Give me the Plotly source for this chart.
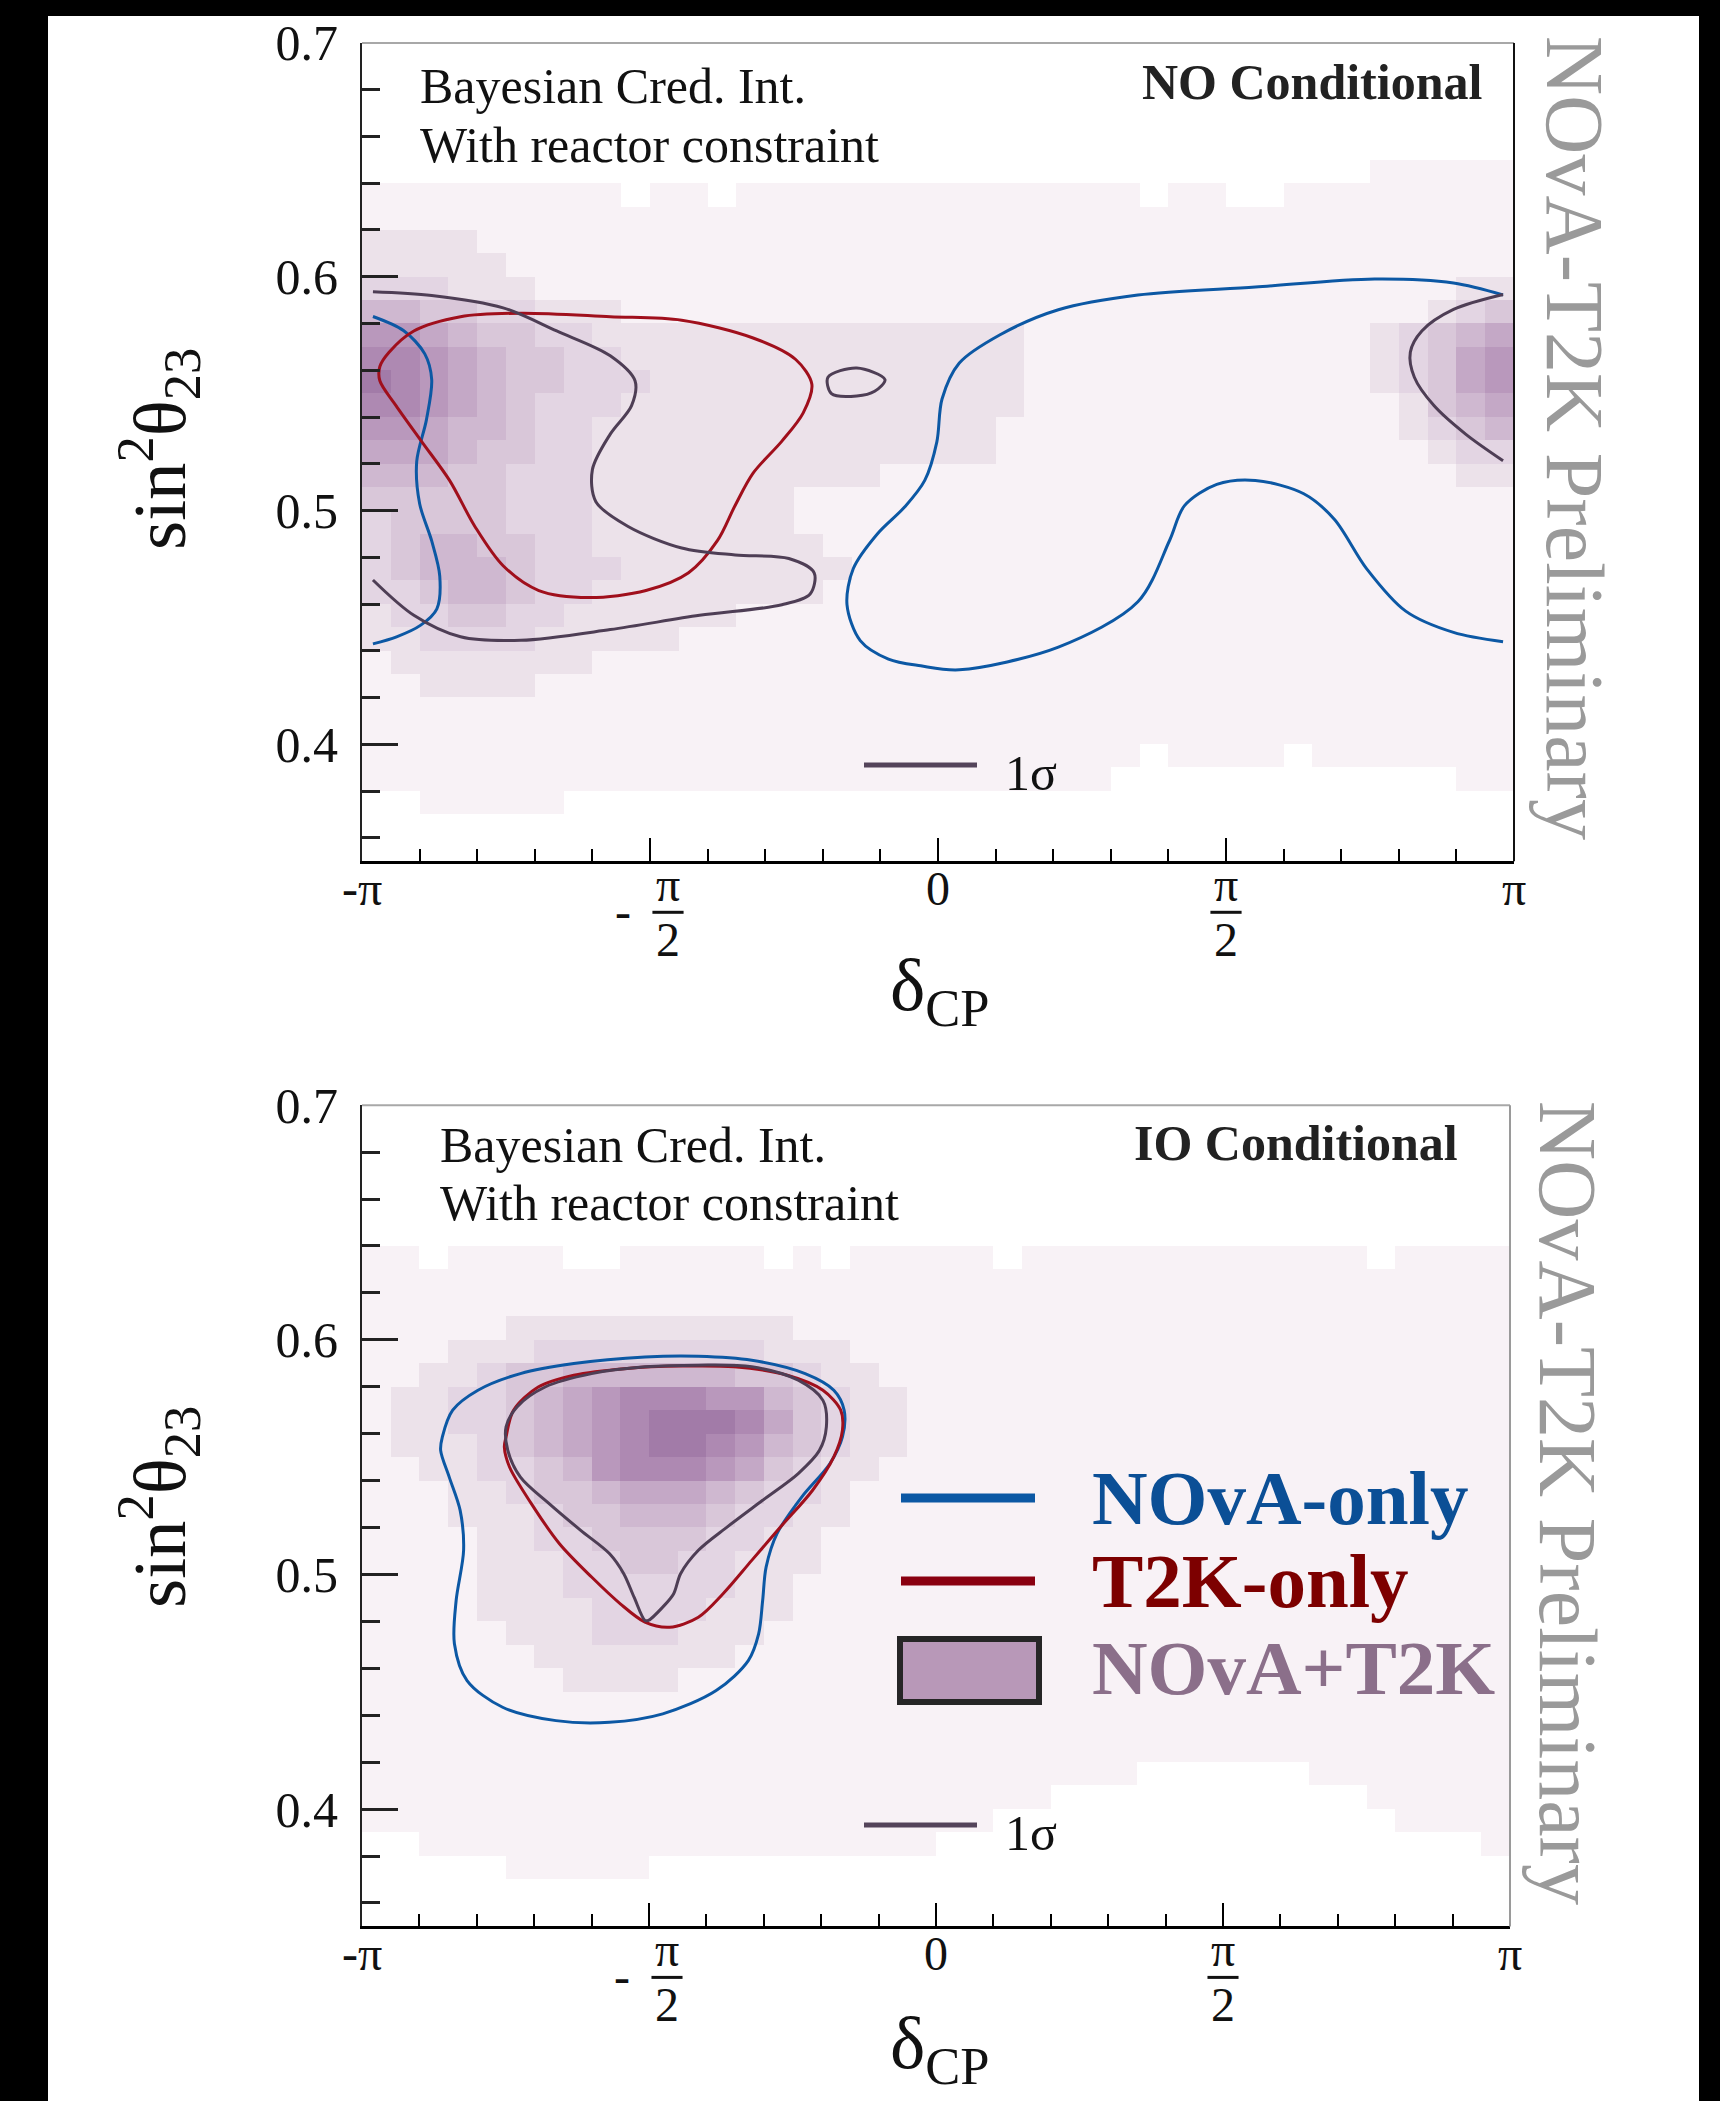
import numpy as np
import plotly.graph_objects as go

W, H = 1720, 2101
FONT = "Liberation Serif"

# ---------------- binned posterior (levels 0..9, rows listed top -> bottom) ----------------
DCP_BIN_CENTERS_OVER_PI = np.linspace(-0.975, 0.975, 40)
S23_BIN_CENTERS = np.linspace(0.355, 0.695, 35)

NO_DENSITY_ROWS = [
    "0" * 40, "0" * 40, "0" * 40, "0" * 40, "0" * 40,
    "0" * 35 + "11111",
    "1111111110110111111111111110110011111111",
    "1" * 40,
    "2222" + "1" * 36,
    "22222" + "1" * 35,
    "333222" + "1" * 32 + "22",
    "554433222" + "1" * 28 + "234",
    "77654433222" + "2" * 12 + "1" * 12 + "23456",
    "887654433" + "2" * 14 + "1" * 12 + "23467",
    "9876544333" + "2" * 13 + "1" * 12 + "23467",
    "887654333" + "2" * 14 + "1" * 13 + "2456",
    "776554332" + "2" * 13 + "1" * 14 + "2345",
    "666544332" + "2" * 13 + "1" * 15 + "233",
    "555443332" + "2" * 9 + "1" * 20 + "22",
    "444443332" + "2" * 6 + "1" * 25,
    "344443332" + "2" * 6 + "1" * 25,
    "345544332" + "2" * 7 + "1" * 24,
    "345554333" + "2" * 8 + "1" * 23,
    "334554332" + "2" * 7 + "1" * 24,
    "23344332" + "2" * 5 + "1" * 27,
    "2233332" + "2" * 4 + "1" * 29,
    "1" + "2" * 7 + "1" * 32,
    "11" + "2222" + "1" * 34,
    "1" * 40,
    "1" * 40,
    "1" * 27 + "0" + "1111" + "0" + "1" * 7,
    "1" * 26 + "0" * 12 + "11",
    "00" + "11111" + "0" * 33,
    "0" * 40, "0" * 40,
]

IO_DENSITY_ROWS = [
    "0" * 40, "0" * 40, "0" * 40, "0" * 40, "0" * 40,
    "0" * 40,
    "11" + "0" + "1111" + "00" + "11111" + "0" + "1" + "0" + "11111" + "0" + "1" * 12 + "0" + "1111",
    "1" * 40,
    "1" * 40,
    "11111" + "2" * 10 + "1" * 25,
    "111" + "222" + "33333333" + "222" + "1" * 23,
    "11" + "2234455555544322" + "1" * 22,
    "1" + "223345678887754322" + "1" * 21,
    "1" + "223345678999864322" + "1" * 21,
    "1" + "222345678998754322" + "1" * 21,
    "11" + "2233457888764322" + "1" * 22,
    "111" + "22344566654332" + "1" * 23,
    "111" + "22234455543322" + "1" * 23,
    "1111" + "223344443322" + "1" * 24,
    "1111" + "222334433222" + "1" * 24,
    "1111" + "22233333322" + "1" * 25,
    "1111" + "22223333222" + "1" * 25,
    "11111" + "222333222" + "1" * 26,
    "111111" + "2222222" + "1" * 27,
    "1111111" + "2222" + "1" * 29,
    "1" * 40,
    "1" * 40,
    "1" * 40,
    "1" * 27 + "0" * 6 + "1" * 7,
    "1" * 24 + "0" * 11 + "1" * 5,
    "1" * 22 + "0" * 14 + "1" * 4,
    "00" + "1" * 18 + "0" * 19 + "1",
    "00000" + "11111" + "0" * 30,
    "0" * 40, "0" * 40,
]

# ---------------- 1 sigma contours (delta_CP in units of pi, sin^2 theta23) ----------------
# NO panel
NO_NOVA_A_X = [-0.981, -0.928, -0.891, -0.879, -0.888, -0.905, -0.900, -0.879, -0.865, -0.870, -0.898, -0.940, -0.981]
NO_NOVA_A_Y = [0.583, 0.577, 0.567, 0.556, 0.539, 0.521, 0.503, 0.487, 0.472, 0.458, 0.451, 0.446, 0.443]

NO_NOVA_B_X = [0.981, 0.895, 0.812, 0.744, 0.688, 0.635, 0.551, 0.484, 0.428, 0.402, 0.347, 0.209, 0.037,
               -0.030, -0.086, -0.135, -0.158, -0.147, -0.105, -0.058, -0.023, -0.002, 0.007, 0.037, 0.107,
               0.209, 0.347, 0.551, 0.758, 0.895, 0.981]
NO_NOVA_B_Y = [0.4439, 0.4479, 0.4570, 0.4752, 0.4963, 0.5072, 0.5129, 0.5112, 0.5021, 0.4872, 0.4610, 0.4416,
               0.4319, 0.4336, 0.4365, 0.4444, 0.4598, 0.4752, 0.4901, 0.5015, 0.5129, 0.5294, 0.5477, 0.5631,
               0.5751, 0.5859, 0.5922, 0.5956, 0.5990, 0.5973, 0.5922]

NO_T2K_X = [-0.969, -0.953, -0.910, -0.829, -0.724, -0.569, -0.445, -0.321, -0.247, -0.219, -0.234, -0.271,
            -0.321, -0.352, -0.383, -0.433, -0.507, -0.606, -0.693, -0.755, -0.804, -0.848, -0.897, -0.941,
            -0.969, -0.969]
NO_T2K_Y = [0.5616, 0.5677, 0.5768, 0.5829, 0.5844, 0.5829, 0.5814, 0.5738, 0.5646, 0.5540, 0.5418, 0.5297,
            0.5160, 0.5023, 0.4871, 0.4734, 0.4658, 0.4628, 0.4658, 0.4764, 0.4932, 0.5129, 0.5297, 0.5449,
            0.5555, 0.5616]

NO_COMB_A_X = [-0.981, -0.879, -0.755, -0.662, -0.569, -0.526, -0.532, -0.569, -0.600, -0.594, -0.538, -0.445,
               -0.352, -0.259, -0.215, -0.222, -0.271, -0.414, -0.569, -0.724, -0.829, -0.910, -0.981]
NO_COMB_A_Y = [0.5936, 0.5920, 0.5867, 0.5768, 0.5662, 0.5555, 0.5449, 0.5327, 0.5175, 0.5038, 0.4932, 0.4840,
               0.4810, 0.4795, 0.4734, 0.4643, 0.4597, 0.4552, 0.4491, 0.4445, 0.4460, 0.4552, 0.4703]
NO_COMB_B_X = [-0.191, -0.141, -0.092, -0.110, -0.141, -0.185, -0.191]
NO_COMB_B_Y = [0.557, 0.561, 0.556, 0.551, 0.549, 0.550, 0.557]
NO_COMB_C_X = [0.981, 0.895, 0.840, 0.820, 0.827, 0.861, 0.916, 0.981]
NO_COMB_C_Y = [0.5924, 0.5860, 0.5768, 0.5677, 0.5570, 0.5449, 0.5327, 0.5213]

# IO panel
IO_NOVA_X = [-0.860, -0.842, -0.798, -0.724, -0.631, -0.507, -0.414, -0.321, -0.228, -0.178, -0.160, -0.163,
             -0.185, -0.234, -0.277, -0.296, -0.302, -0.309, -0.327, -0.383, -0.476, -0.569, -0.662, -0.755,
             -0.817, -0.839, -0.836, -0.823, -0.829, -0.848, -0.863, -0.860]
IO_NOVA_Y = [0.5586, 0.5700, 0.5785, 0.5856, 0.5899, 0.5927, 0.5930, 0.5913, 0.5856, 0.5785, 0.5700, 0.5586,
             0.5472, 0.5330, 0.5174, 0.5031, 0.4889, 0.4747, 0.4633, 0.4505, 0.4406, 0.4370, 0.4377, 0.4434,
             0.4548, 0.4705, 0.4889, 0.5103, 0.5273, 0.5415, 0.5529, 0.5586]
IO_T2K_X = [-0.749, -0.736, -0.693, -0.631, -0.538, -0.445, -0.352, -0.259, -0.197, -0.166, -0.163, -0.178,
            -0.215, -0.271, -0.321, -0.371, -0.414, -0.464, -0.507, -0.550, -0.600, -0.656, -0.705, -0.743,
            -0.752, -0.749]
IO_T2K_Y = [0.5586, 0.5700, 0.5799, 0.5849, 0.5878, 0.5888, 0.5885, 0.5849, 0.5785, 0.5700, 0.5615, 0.5501,
            0.5359, 0.5202, 0.5060, 0.4918, 0.4818, 0.4775, 0.4797, 0.4875, 0.4989, 0.5131, 0.5302, 0.5458,
            0.5543, 0.5586]
IO_COMB_X = [-0.507, -0.526, -0.544, -0.569, -0.619, -0.674, -0.724, -0.746, -0.749, -0.730, -0.681, -0.600,
             -0.507, -0.414, -0.321, -0.240, -0.197, -0.191, -0.203, -0.240, -0.302, -0.364, -0.414, -0.445,
             -0.457, -0.476, -0.501, -0.507]
IO_COMB_Y = [0.4804, 0.4903, 0.5003, 0.5089, 0.5188, 0.5302, 0.5415, 0.5529, 0.5629, 0.5714, 0.5799, 0.5856,
             0.5885, 0.5892, 0.5885, 0.5828, 0.5742, 0.5629, 0.5529, 0.5430, 0.5316, 0.5202, 0.5103, 0.5003,
             0.4918, 0.4861, 0.4804, 0.4804]

# x tick labels (delta_CP in units of pi)
XTICK_POS_OVER_PI = [-1.0, -0.5, 0.0, 0.5, 1.0]
XTICK_NUM = ["-π", "π", "0", "π", "π"]
XTICK_DEN = ["", "2", "", "2", ""]
XTICK_SIGN = ["", "-", "", "", ""]
YTICK_VALS = [0.4, 0.5, 0.6, 0.7]
YTICK_TEXT = ["0.4", "0.5", "0.6", "0.7"]

# ---------------- styles ----------------
C_NOVA = "#0c58a4"
C_T2K = "#a00f1c"
C_COMB = "#4e3e55"
HEAT_COLORS = ["#ffffff", "#f8f2f6", "#ece2ea", "#e3d5e3", "#d9c7d9", "#cfb8d0",
               "#c4a8c6", "#b998bc", "#ae89b2", "#a27ba8"]
COLORSCALE = [[i / 9, c] for i, c in enumerate(HEAT_COLORS)]


def rows_to_z(rows):
    out = []
    for r in rows[::-1]:
        r = (r + "0" * 40)[:40]
        out.append([int(ch) for ch in r])
    return out


fig = go.Figure()

panels = [
    dict(xa="x", ya="y", rows=NO_DENSITY_ROWS, axis_y=861.3, px_per_rad=1152 / (2 * np.pi),
         lines=[(NO_NOVA_A_X, NO_NOVA_A_Y, C_NOVA), (NO_NOVA_B_X, NO_NOVA_B_Y, C_NOVA),
                (NO_T2K_X, NO_T2K_Y, C_T2K),
                (NO_COMB_A_X, NO_COMB_A_Y, C_COMB), (NO_COMB_B_X, NO_COMB_B_Y, C_COMB),
                (NO_COMB_C_X, NO_COMB_C_Y, C_COMB)]),
    dict(xa="x2", ya="y2", rows=IO_DENSITY_ROWS, axis_y=1926.4, px_per_rad=1148 / (2 * np.pi),
         lines=[(IO_NOVA_X, IO_NOVA_Y, C_NOVA), (IO_T2K_X, IO_T2K_Y, C_T2K),
                (IO_COMB_X, IO_COMB_Y, C_COMB)]),
]

for p in panels:
    fig.add_trace(go.Heatmap(
        x=DCP_BIN_CENTERS_OVER_PI * np.pi, y=S23_BIN_CENTERS, z=rows_to_z(p["rows"]),
        zmin=0, zmax=9, colorscale=COLORSCALE, showscale=False, zsmooth=False,
        xaxis=p["xa"], yaxis=p["ya"], hoverinfo="skip"))
    for xs, ys, col in p["lines"]:
        fig.add_trace(go.Scatter(
            x=np.array(xs) * np.pi, y=ys, mode="lines",
            line=dict(color=col, width=3, shape="spline", smoothing=0.9),
            xaxis=p["xa"], yaxis=p["ya"], showlegend=False, hoverinfo="skip"))

PI = np.pi


def xaxis_style(domain):
    return dict(domain=domain, range=[-PI, PI], showgrid=False, zeroline=False, automargin=False,
                showline=True, linecolor="black", linewidth=3,
                ticks="inside", ticklen=23, tickwidth=2, tickcolor="black",
                tickvals=[v * PI for v in XTICK_POS_OVER_PI], showticklabels=False,
                minor=dict(ticks="inside", ticklen=12, tickwidth=2, tickcolor="black",
                           tick0=-PI, dtick=PI / 10),
                fixedrange=True)


def yaxis_style(domain, anchor):
    return dict(domain=domain, range=[0.35, 0.7], anchor=anchor, showgrid=False, zeroline=False,
                automargin=False,
                showline=True, linecolor="#222", linewidth=2,
                ticks="inside", ticklen=36, tickwidth=3, tickcolor="#222",
                tickvals=YTICK_VALS, ticktext=YTICK_TEXT,
                tickfont=dict(family=FONT, size=50, color="#111"),
                ticklabelstandoff=12,
                minor=dict(ticks="inside", ticklen=18, tickwidth=3, tickcolor="#222",
                           tick0=0.0, dtick=0.02),
                fixedrange=True)


def px(X):
    return X / W


def py(Y):
    return 1 - Y / H


top_x = [px(362), px(1514)]
top_y = [py(861.3), py(42.9)]
bot_x = [px(362), px(1510)]
bot_y = [py(1926.4), py(1105.2)]

fig.update_layout(
    width=W, height=H, autosize=False,
    margin=dict(l=0, r=0, t=0, b=0, pad=0, autoexpand=False),
    paper_bgcolor="black", plot_bgcolor="white",
    showlegend=False,
    xaxis=dict(xaxis_style(top_x), anchor="y"),
    yaxis=yaxis_style(top_y, "x"),
    xaxis2=dict(xaxis_style(bot_x), anchor="y2"),
    yaxis2=yaxis_style(bot_y, "x2"),
)

shapes = [
    dict(type="rect", xref="paper", yref="paper", x0=px(48), x1=px(1699), y0=0, y1=py(16),
         fillcolor="white", line=dict(width=0), layer="below"),
]
# frame top/right lines
for xa, ya, rcol in [("x", "y", "#111"), ("x2", "y2", "#9a9a9a")]:
    shapes.append(dict(type="line", xref=f"{xa} domain", yref=f"{ya} domain", x0=0, x1=1, y0=1, y1=1,
                       line=dict(color="#a8a8a8", width=2)))
    shapes.append(dict(type="line", xref=f"{xa} domain", yref=f"{ya} domain", x0=1, x1=1, y0=0, y1=1,
                       line=dict(color=rcol, width=2)))
# 1 sigma legend lines
for Y in (765, 1825):
    shapes.append(dict(type="line", xref="paper", yref="paper", x0=px(864), x1=px(977), y0=py(Y), y1=py(Y),
                       line=dict(color="#54445a", width=5)))
# main legend
shapes.append(dict(type="line", xref="paper", yref="paper", x0=px(901), x1=px(1035), y0=py(1498), y1=py(1498),
                   line=dict(color=C_NOVA, width=9)))
shapes.append(dict(type="line", xref="paper", yref="paper", x0=px(901), x1=px(1035), y0=py(1581), y1=py(1581),
                   line=dict(color="#8a0010", width=9)))
shapes.append(dict(type="rect", xref="paper", yref="paper", x0=px(900), x1=px(1039), y0=py(1702), y1=py(1639),
                   fillcolor="#b898b8", line=dict(color="#262626", width=6)))

anns = []


def ann(text, X, Y, size, color="#111", xanchor="center", yanchor="middle", angle=0):
    anns.append(dict(text=text, x=px(X), y=py(Y), xref="paper", yref="paper", showarrow=False,
                     xanchor=xanchor, yanchor=yanchor, textangle=angle,
                     font=dict(family=FONT, size=size, color=color)))


# x tick labels (placed on the data x-scale), with fraction bars
TICKFONT = dict(family=FONT, size=48, color="#111")
for p in panels:
    ay = p["axis_y"]
    for pos, num, den, sign in zip(XTICK_POS_OVER_PI, XTICK_NUM, XTICK_DEN, XTICK_SIGN):
        xv = pos * PI
        shift = 18 if sign else 0  # a signed fraction is centred as a whole on its tick
        if den:
            anns.append(dict(text=num, x=xv, y=py(ay + 23), xref=p["xa"], yref="paper", showarrow=False,
                             xshift=shift, xanchor="center", yanchor="middle", font=TICKFONT))
            anns.append(dict(text=den, x=xv, y=py(ay + 78), xref=p["xa"], yref="paper", showarrow=False,
                             xshift=shift, xanchor="center", yanchor="middle", font=TICKFONT))
            xc = xv + shift / p["px_per_rad"]
            shapes.append(dict(type="line", xref=p["xa"], yref="paper", x0=xc - 0.085, x1=xc + 0.085,
                               y0=py(ay + 51), y1=py(ay + 51), line=dict(color="#111", width=3)))
        else:
            anns.append(dict(text=num, x=xv, y=py(ay + 27), xref=p["xa"], yref="paper", showarrow=False,
                             xanchor="center", yanchor="middle", font=TICKFONT))
        if sign:
            anns.append(dict(text=sign, x=xv, y=py(ay + 50), xref=p["xa"], yref="paper", showarrow=False,
                             xshift=-27, xanchor="center", yanchor="middle", font=TICKFONT))

# top panel texts
ann("Bayesian Cred. Int.", 418, 86, 50, xanchor="left")
ann("With reactor constraint", 418, 145, 50, xanchor="left")
ann("<b>NO Conditional</b>", 1484, 82, 50, color="#222", xanchor="right")
ann("1σ", 1003, 773, 50, xanchor="left")
ann("NOvA-T2K Preliminary", 1574, 438, 82, color="#9a9a9a", angle=90)
ann("δ<sub>CP</sub>", 940, 990, 75)
ann("sin<sup>2</sup>θ<sub>23</sub>", 158, 449, 75, angle=-90)

# bottom panel texts
ann("Bayesian Cred. Int.", 438, 1145, 50, xanchor="left")
ann("With reactor constraint", 438, 1203, 50, xanchor="left")
ann("<b>IO Conditional</b>", 1460, 1143, 50, color="#222", xanchor="right")
ann("1σ", 1003, 1833, 50, xanchor="left")
ann("NOvA-T2K Preliminary", 1568, 1503, 82, color="#9a9a9a", angle=90)
ann("δ<sub>CP</sub>", 940, 2048, 75)
ann("sin<sup>2</sup>θ<sub>23</sub>", 158, 1507, 75, angle=-90)

ann("<b>NOvA-only</b>", 1090, 1498, 77, color="#0b4f96", xanchor="left")
ann("<b>T2K-only</b>", 1090, 1581, 77, color="#7d0000", xanchor="left")
ann("<b>NOvA+T2K</b>", 1090, 1668, 77, color="#8b6f8a", xanchor="left")

fig.update_layout(shapes=shapes, annotations=anns)

fig.write_html("out.html", include_plotlyjs=True, config={"displayModeBar": False})
